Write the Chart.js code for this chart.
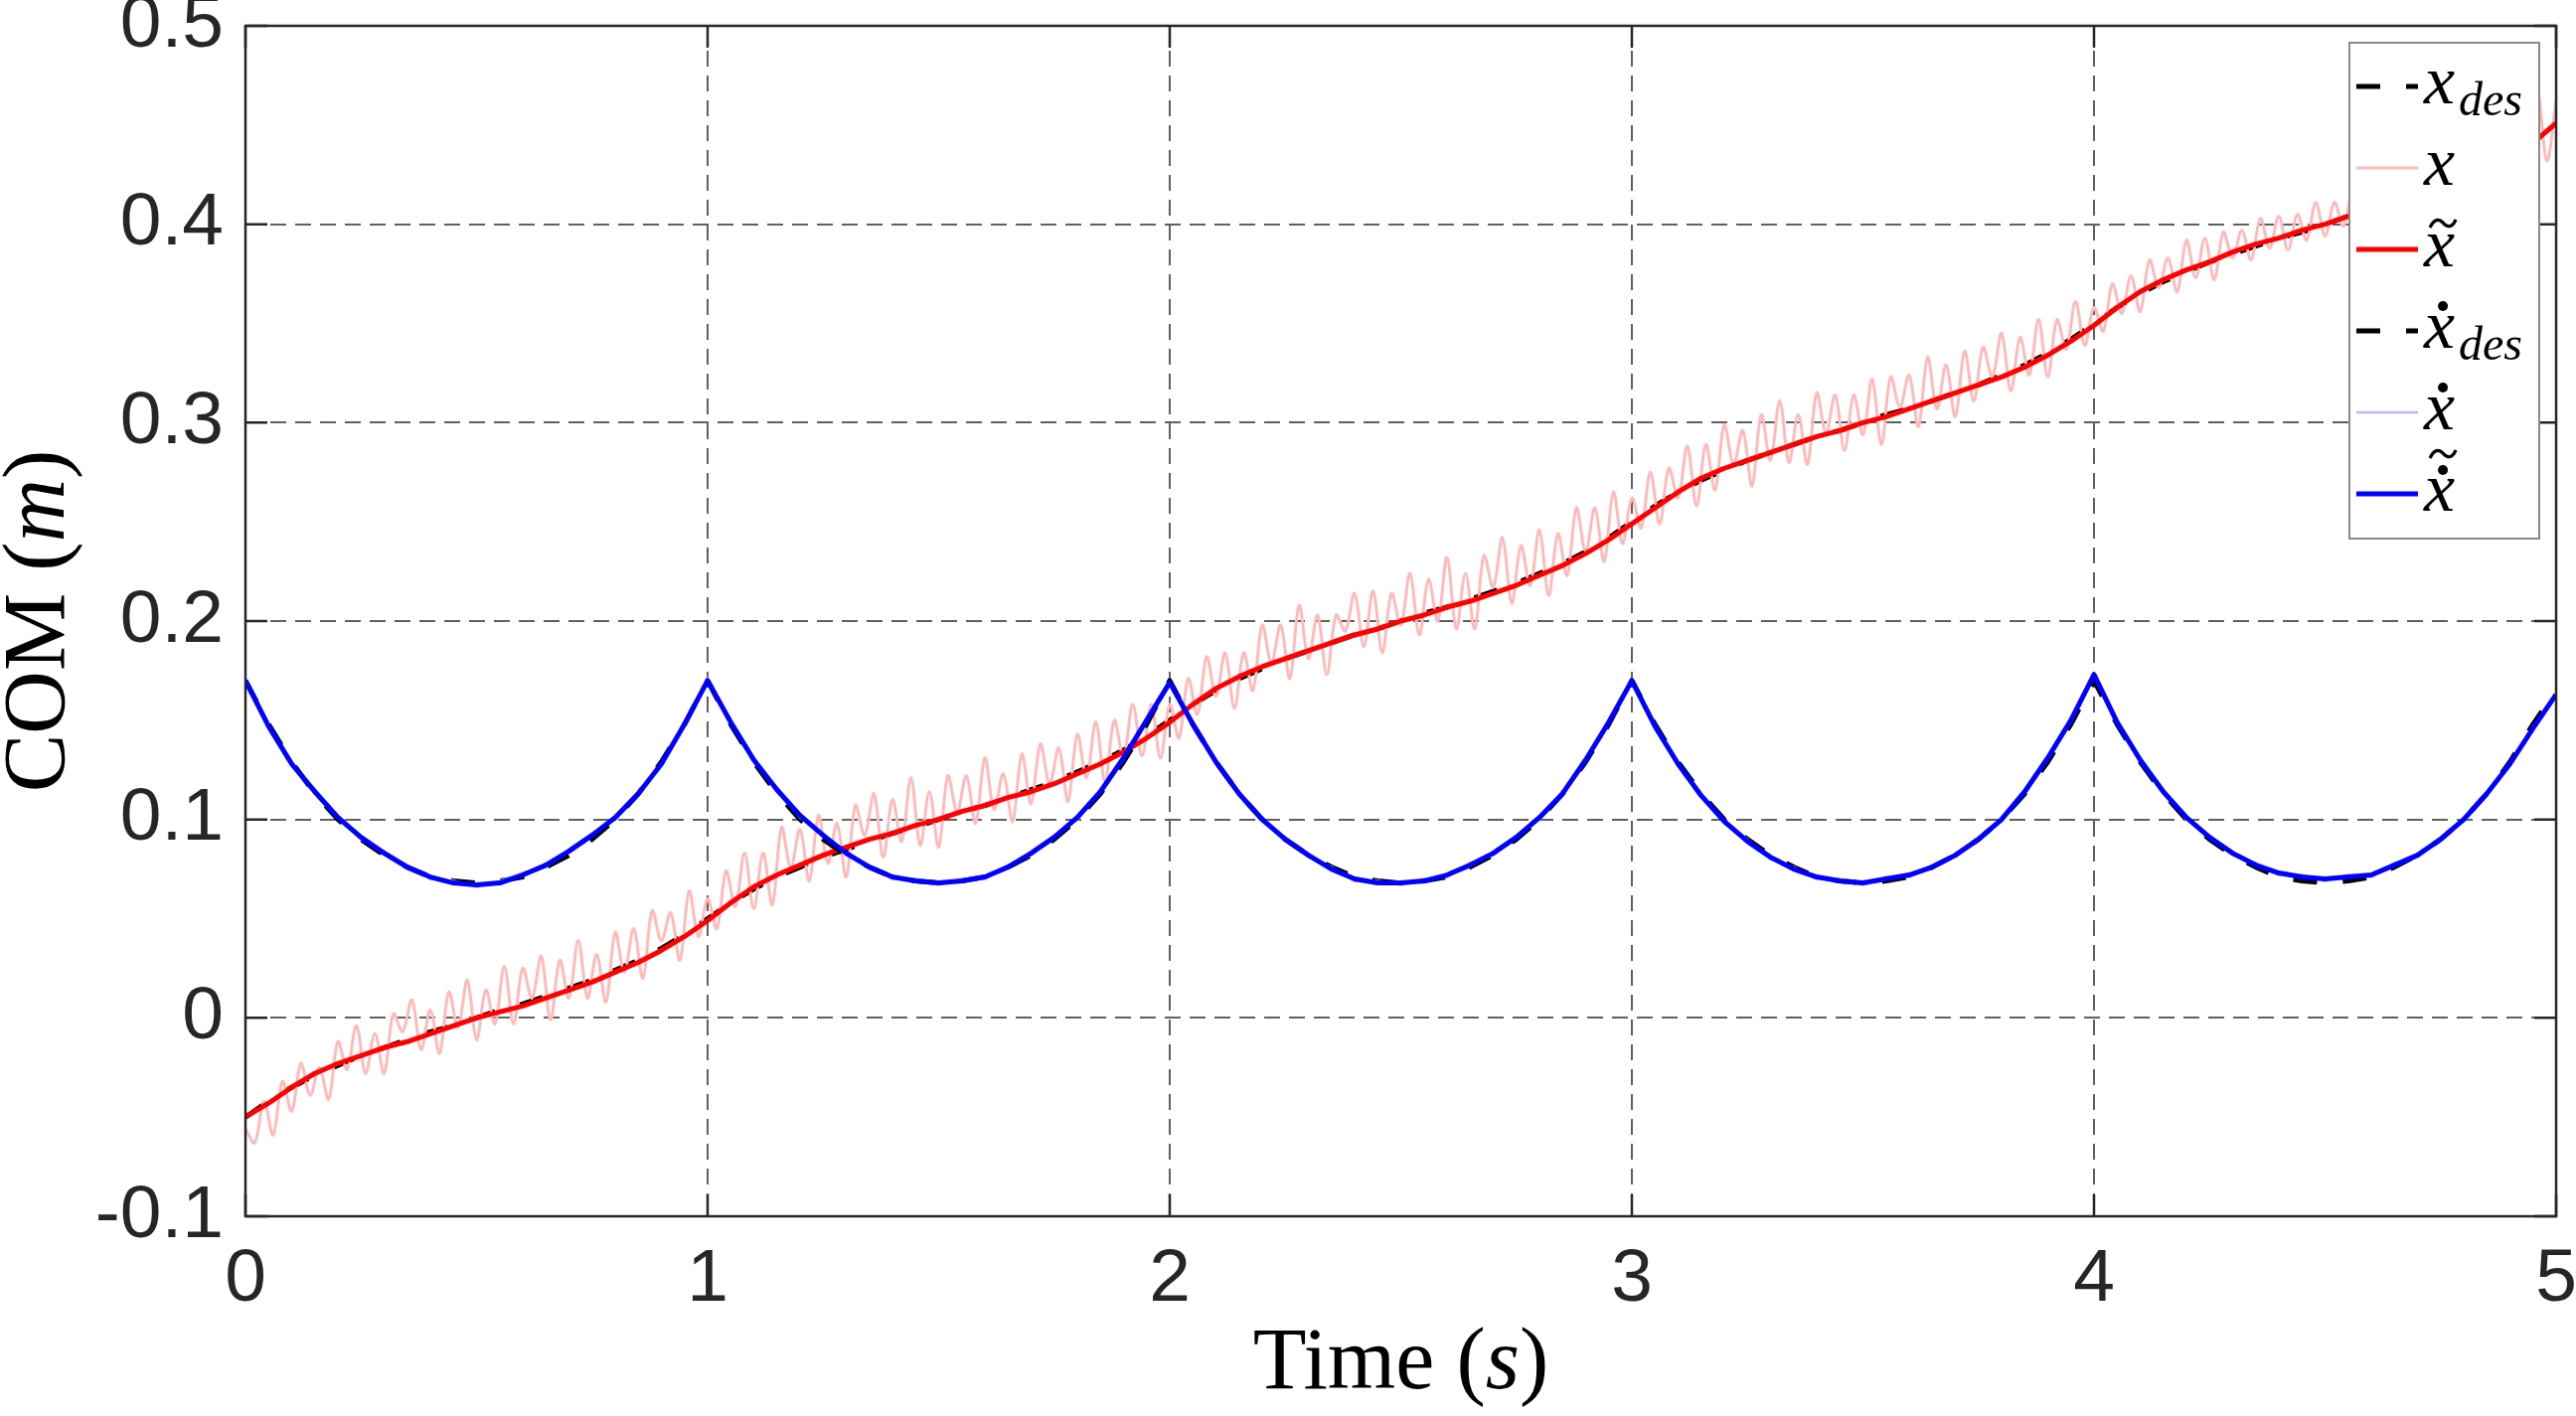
<!DOCTYPE html>
<html>
<head>
<meta charset="utf-8">
<title>COM tracking</title>
<script src="https://cdn.jsdelivr.net/npm/chart.js@4.4.0/dist/chart.umd.min.js"></script>
<style>
  html, body { margin: 0; padding: 0; background: #fff; }
  #plot { display: block; }
</style>
</head>
<body>
<canvas id="plot" width="2592" height="1425"></canvas>
<script>
// Sample grids (s): coarse 0.05 s for smooth traces, fine 0.02 s for the noisy position
const timeCoarse = Array.from({ length: 101 }, (_, i) => +(i * 0.05).toFixed(2));
const timeFine = Array.from({ length: 251 }, (_, i) => +(i * 0.02).toFixed(2));

// x_des, desired COM position (m)
const xDes = [
  -0.050, -0.042, -0.035, -0.029, -0.024, -0.019, -0.015, -0.011, -0.007, -0.004,
   0.000,  0.004,  0.007,  0.011,  0.015,  0.019,  0.024,  0.029,  0.035,  0.042,
   0.050,  0.058,  0.065,  0.071,  0.076,  0.081,  0.085,  0.089,  0.093,  0.096,
   0.100,  0.104,  0.107,  0.111,  0.115,  0.119,  0.124,  0.129,  0.135,  0.142,
   0.150,  0.158,  0.165,  0.171,  0.176,  0.181,  0.185,  0.189,  0.193,  0.196,
   0.200,  0.204,  0.207,  0.211,  0.215,  0.219,  0.224,  0.229,  0.235,  0.242,
   0.250,  0.258,  0.265,  0.271,  0.276,  0.281,  0.285,  0.289,  0.293,  0.296,
   0.300,  0.304,  0.307,  0.311,  0.315,  0.319,  0.324,  0.329,  0.335,  0.342,
   0.350,  0.358,  0.365,  0.371,  0.376,  0.381,  0.385,  0.389,  0.393,  0.396,
   0.400,  0.404,  0.407,  0.411,  0.415,  0.419,  0.424,  0.429,  0.435,  0.442,
   0.450
];

// x, measured COM position (m), noisy
const xMeas = [
  -0.056, -0.063, -0.042, -0.059, -0.032, -0.047, -0.023, -0.039, -0.025, -0.041,
  -0.012, -0.026, -0.004, -0.028, -0.008, -0.028,  0.002, -0.007,  0.009, -0.016,
   0.004, -0.018,  0.013, -0.005,  0.019, -0.011,  0.014, -0.003,  0.026, -0.003,
   0.025,  0.010,  0.031, -0.001,  0.029,  0.010,  0.039,  0.010,  0.032,  0.008,
   0.043,  0.023,  0.045,  0.020,  0.054,  0.039,  0.053,  0.029,  0.064,  0.041,
   0.060,  0.045,  0.074,  0.056,  0.083,  0.055,  0.083,  0.057,  0.096,  0.076,
   0.095,  0.069,  0.102,  0.078,  0.098,  0.071,  0.107,  0.092,  0.113,  0.081,
   0.110,  0.089,  0.121,  0.087,  0.114,  0.086,  0.122,  0.104,  0.122,  0.098,
   0.131,  0.105,  0.123,  0.099,  0.133,  0.108,  0.138,  0.118,  0.136,  0.109,
   0.143,  0.121,  0.149,  0.119,  0.150,  0.131,  0.158,  0.132,  0.158,  0.131,
   0.158,  0.141,  0.171,  0.153,  0.182,  0.162,  0.184,  0.156,  0.184,  0.165,
   0.198,  0.179,  0.198,  0.171,  0.208,  0.181,  0.203,  0.173,  0.203,  0.195,
   0.214,  0.187,  0.215,  0.184,  0.214,  0.198,  0.224,  0.193,  0.221,  0.200,
   0.232,  0.196,  0.224,  0.196,  0.233,  0.217,  0.242,  0.209,  0.238,  0.218,
   0.246,  0.213,  0.244,  0.223,  0.257,  0.235,  0.257,  0.230,  0.265,  0.239,
   0.262,  0.247,  0.275,  0.249,  0.277,  0.262,  0.288,  0.258,  0.289,  0.266,
   0.299,  0.279,  0.296,  0.268,  0.304,  0.281,  0.311,  0.280,  0.304,  0.279,
   0.315,  0.295,  0.314,  0.286,  0.314,  0.294,  0.322,  0.289,  0.323,  0.308,
   0.324,  0.298,  0.333,  0.307,  0.329,  0.303,  0.336,  0.311,  0.338,  0.323,
   0.345,  0.316,  0.343,  0.324,  0.352,  0.323,  0.352,  0.337,  0.361,  0.339,
   0.358,  0.346,  0.370,  0.355,  0.374,  0.356,  0.382,  0.368,  0.383,  0.366,
   0.392,  0.373,  0.393,  0.372,  0.396,  0.383,  0.397,  0.382,  0.403,  0.388,
   0.404,  0.387,  0.405,  0.392,  0.411,  0.394,  0.411,  0.399,  0.417,  0.399,
   0.418,  0.405,  0.422,  0.403,  0.423,  0.410,  0.430,  0.412,  0.431,  0.413,
   0.437,  0.422,  0.440,  0.423,  0.448,  0.430,  0.448,  0.429,  0.466,  0.432,
   0.462
];

// x~, filtered COM position (m)
const xFilt = [
  -0.050, -0.043, -0.035, -0.028, -0.023, -0.019, -0.015, -0.012, -0.008, -0.004,
   0.000,  0.003,  0.006,  0.010,  0.014,  0.018,  0.023,  0.028,  0.034,  0.041,
   0.049,  0.058,  0.066,  0.072,  0.077,  0.082,  0.086,  0.090,  0.093,  0.097,
   0.100,  0.104,  0.107,  0.111,  0.114,  0.118,  0.123,  0.128,  0.134,  0.141,
   0.149,  0.158,  0.166,  0.172,  0.177,  0.181,  0.185,  0.189,  0.193,  0.196,
   0.200,  0.203,  0.207,  0.210,  0.214,  0.218,  0.223,  0.228,  0.234,  0.241,
   0.249,  0.257,  0.265,  0.272,  0.277,  0.281,  0.285,  0.289,  0.293,  0.296,
   0.300,  0.303,  0.307,  0.311,  0.315,  0.319,  0.323,  0.328,  0.334,  0.341,
   0.349,  0.358,  0.366,  0.372,  0.377,  0.381,  0.386,  0.390,  0.393,  0.397,
   0.400,  0.404,  0.407,  0.411,  0.415,  0.419,  0.424,  0.429,  0.435,  0.441,
   0.451
];

// xdot_des, desired COM velocity (m/s)
const xdDes = [
  0.170, 0.148, 0.129, 0.113, 0.100, 0.090, 0.082, 0.076, 0.071, 0.069,
  0.068, 0.069, 0.071, 0.076, 0.082, 0.090, 0.100, 0.113, 0.129, 0.148,
  0.170, 0.148, 0.129, 0.113, 0.100, 0.090, 0.082, 0.076, 0.071, 0.069,
  0.068, 0.069, 0.071, 0.076, 0.082, 0.090, 0.100, 0.113, 0.129, 0.148,
  0.170, 0.148, 0.129, 0.113, 0.100, 0.090, 0.082, 0.076, 0.071, 0.069,
  0.068, 0.069, 0.071, 0.076, 0.082, 0.090, 0.100, 0.113, 0.129, 0.148,
  0.170, 0.148, 0.129, 0.113, 0.100, 0.090, 0.082, 0.076, 0.071, 0.069,
  0.068, 0.069, 0.071, 0.076, 0.082, 0.090, 0.100, 0.113, 0.129, 0.148,
  0.170, 0.148, 0.129, 0.113, 0.100, 0.090, 0.082, 0.076, 0.071, 0.069,
  0.068, 0.069, 0.071, 0.076, 0.082, 0.090, 0.100, 0.113, 0.129, 0.148,
  0.165
];

// xdot, measured COM velocity (m/s)
const xdMeas = [
  0.171, 0.148, 0.127, 0.115, 0.102, 0.090, 0.084, 0.077, 0.070, 0.069,
  0.066, 0.069, 0.073, 0.076, 0.085, 0.093, 0.100, 0.114, 0.127, 0.149,
  0.171, 0.150, 0.129, 0.116, 0.101, 0.093, 0.082, 0.077, 0.070, 0.070,
  0.067, 0.070, 0.070, 0.077, 0.082, 0.092, 0.100, 0.115, 0.130, 0.151,
  0.168, 0.149, 0.128, 0.114, 0.099, 0.091, 0.081, 0.076, 0.069, 0.069,
  0.067, 0.070, 0.071, 0.078, 0.082, 0.092, 0.100, 0.114, 0.129, 0.150,
  0.169, 0.148, 0.127, 0.113, 0.098, 0.090, 0.080, 0.076, 0.070, 0.070,
  0.067, 0.071, 0.071, 0.077, 0.081, 0.091, 0.099, 0.115, 0.130, 0.151,
  0.172, 0.150, 0.129, 0.115, 0.100, 0.092, 0.082, 0.078, 0.072, 0.072,
  0.069, 0.072, 0.071, 0.078, 0.081, 0.091, 0.099, 0.114, 0.127, 0.147,
  0.162
];

// xdot~, filtered COM velocity (m/s)
const xdFilt = [
  0.170, 0.147, 0.128, 0.114, 0.101, 0.091, 0.083, 0.076, 0.071, 0.068,
  0.067, 0.068, 0.072, 0.077, 0.084, 0.092, 0.101, 0.113, 0.128, 0.148,
  0.170, 0.149, 0.130, 0.115, 0.102, 0.092, 0.083, 0.076, 0.071, 0.069,
  0.068, 0.069, 0.071, 0.076, 0.083, 0.091, 0.101, 0.114, 0.131, 0.150,
  0.169, 0.148, 0.129, 0.113, 0.100, 0.090, 0.082, 0.075, 0.070, 0.068,
  0.068, 0.069, 0.072, 0.077, 0.083, 0.091, 0.101, 0.113, 0.130, 0.149,
  0.170, 0.147, 0.128, 0.112, 0.099, 0.089, 0.081, 0.075, 0.071, 0.069,
  0.068, 0.070, 0.072, 0.076, 0.082, 0.090, 0.100, 0.114, 0.131, 0.150,
  0.173, 0.149, 0.130, 0.114, 0.101, 0.091, 0.083, 0.077, 0.073, 0.071,
  0.070, 0.071, 0.072, 0.077, 0.082, 0.090, 0.100, 0.113, 0.128, 0.146,
  0.163
];

const xTickValues = [0, 1, 2, 3, 4, 5];
const yTickValues = [-0.1, 0, 0.1, 0.2, 0.3, 0.4, 0.5];

// legend entries: accent over x, subscript
const legendAccents = ['', '', 'tilde', 'dot', 'dot', 'dot+tilde'];
const legendSubs = ['des', '', '', 'des', '', ''];

const SANS = '"Liberation Sans", Arial, Helvetica, sans-serif';
const SERIF = '"Liberation Serif", "Times New Roman", serif';

function toPoints(ts, ys) {
  return ys.map((y, i) => ({ x: ts[i], y: y }));
}

// draws a run of text pieces centred on (x, y) at the baseline
function drawPieces(ctx, pieces, x, y) {
  let total = 0;
  pieces.forEach(p => { ctx.font = p.font; p.w = ctx.measureText(p.text).width; total += p.w; });
  let cx = x - total / 2;
  ctx.textAlign = 'left';
  ctx.textBaseline = 'alphabetic';
  pieces.forEach(p => { ctx.font = p.font; ctx.fillText(p.text, cx, y); cx += p.w; });
}

function drawTilde(ctx, cx, cy) {
  ctx.save();
  ctx.setLineDash([]);
  ctx.lineWidth = 3.2;
  ctx.strokeStyle = '#000';
  ctx.beginPath();
  ctx.moveTo(cx - 13, cy + 4);
  ctx.bezierCurveTo(cx - 9, cy - 5, cx - 4, cy - 5, cx, cy - 1);
  ctx.bezierCurveTo(cx + 4, cy + 4, cx + 9, cy + 5, cx + 13, cy - 4);
  ctx.stroke();
  ctx.restore();
}

function drawDot(ctx, cx, cy) {
  ctx.beginPath();
  ctx.arc(cx, cy, 5, 0, Math.PI * 2);
  ctx.fillStyle = '#000';
  ctx.fill();
}

const axesDecor = {
  id: 'axesDecor',
  afterDraw(chart) {
    const { ctx, chartArea: a, scales } = chart;
    ctx.save();

    // box + inward ticks
    ctx.setLineDash([]);
    ctx.strokeStyle = '#262626';
    ctx.lineWidth = 2.5;
    ctx.strokeRect(a.left, a.top, a.right - a.left, a.bottom - a.top);
    const tl = 22;
    ctx.beginPath();
    xTickValues.forEach(v => {
      const px = scales.x.getPixelForValue(v);
      ctx.moveTo(px, a.bottom); ctx.lineTo(px, a.bottom - tl);
      ctx.moveTo(px, a.top); ctx.lineTo(px, a.top + tl);
    });
    yTickValues.forEach(v => {
      const py = scales.y.getPixelForValue(v);
      ctx.moveTo(a.left, py); ctx.lineTo(a.left + tl, py);
      ctx.moveTo(a.right, py); ctx.lineTo(a.right - tl, py);
    });
    ctx.stroke();

    // axis titles
    ctx.fillStyle = '#000';
    const cxMid = (a.left + a.right) / 2;
    drawPieces(ctx, [
      { text: 'Time (', font: '88px ' + SERIF },
      { text: 's', font: 'italic 88px ' + SERIF },
      { text: ')', font: '88px ' + SERIF }
    ], cxMid, 1397);

    ctx.save();
    ctx.translate(64, (a.top + a.bottom) / 2);
    ctx.rotate(-Math.PI / 2);
    drawPieces(ctx, [
      { text: 'COM (', font: '88px ' + SERIF },
      { text: 'm', font: 'italic 88px ' + SERIF },
      { text: ')', font: '88px ' + SERIF }
    ], 0, 0);
    ctx.restore();

    // legend
    const box = { left: 2364, top: 43, right: 2555, bottom: 542 };
    ctx.fillStyle = '#fff';
    ctx.fillRect(box.left, box.top, box.right - box.left, box.bottom - box.top);
    ctx.strokeStyle = '#8a8a8a';
    ctx.lineWidth = 2;
    ctx.strokeRect(box.left, box.top, box.right - box.left, box.bottom - box.top);

    chart.data.datasets.forEach((ds, i) => {
      const rowY = 87 + i * 82;
      ctx.save();
      ctx.beginPath();
      ctx.setLineDash(ds.borderDash || []);
      ctx.strokeStyle = ds.borderColor;
      ctx.lineWidth = ds.borderWidth;
      ctx.moveTo(2371, rowY);
      ctx.lineTo(2433, rowY);
      ctx.stroke();
      ctx.restore();

      const x0 = 2439;
      ctx.fillStyle = '#000';
      ctx.textAlign = 'left';
      ctx.textBaseline = 'alphabetic';
      ctx.font = 'italic 70px ' + SERIF;
      ctx.fillText('x', x0, rowY + 17);
      const w = ctx.measureText('x').width;
      const ax = x0 + w * 0.55 + 2;
      const acc = legendAccents[i];
      if (acc === 'tilde') drawTilde(ctx, ax, rowY - 26);
      if (acc === 'dot') drawDot(ctx, ax, rowY - 25);
      if (acc === 'dot+tilde') { drawDot(ctx, ax, rowY - 24); drawTilde(ctx, ax, rowY - 40); }
      if (legendSubs[i]) {
        ctx.font = 'italic 48px ' + SERIF;
        ctx.fillText(legendSubs[i], x0 + w + 4, rowY + 29);
      }
    });

    ctx.restore();
  }
};

const gridStyle = { color: '#606060', lineWidth: 2, drawTicks: false };
const gridDash = { display: false, dash: [16, 9] };

new Chart(document.getElementById('plot'), {
  type: 'line',
  data: {
    datasets: [
      { label: 'x_des', data: toPoints(timeCoarse, xDes), borderColor: '#000000', borderWidth: 5, borderDash: [24, 26], order: 6 },
      { label: 'x', data: toPoints(timeFine, xMeas), borderColor: '#ffbaba', borderWidth: 3, tension: 0.35, order: 5 },
      { label: 'x~', data: toPoints(timeCoarse, xFilt), borderColor: '#ff0000', borderWidth: 5, order: 4 },
      { label: 'xdot_des', data: toPoints(timeCoarse, xdDes), borderColor: '#000000', borderWidth: 5, borderDash: [24, 26], order: 3 },
      { label: 'xdot', data: toPoints(timeCoarse, xdMeas), borderColor: '#b8b8ff', borderWidth: 2.5, order: 2 },
      { label: 'xdot~', data: toPoints(timeCoarse, xdFilt), borderColor: '#0000ff', borderWidth: 5, order: 1 }
    ]
  },
  options: {
    responsive: false,
    animation: false,
    events: [],
    layout: { padding: { top: 26, right: 20, left: 0, bottom: 0 } },
    elements: {
      point: { radius: 0 },
      line: { tension: 0, borderJoinStyle: 'round', fill: false }
    },
    plugins: { legend: { display: false }, tooltip: { enabled: false } },
    scales: {
      x: {
        type: 'linear', min: 0, max: 5,
        afterBuildTicks: s => { s.ticks = xTickValues.map(v => ({ value: v })); },
        afterFit: s => { s.height = 201; s.paddingLeft = 0; s.paddingRight = 0; },
        ticks: { color: '#262626', font: { family: SANS, size: 75 }, padding: 19, maxRotation: 0, autoSkip: false },
        grid: gridStyle,
        border: gridDash
      },
      y: {
        type: 'linear', min: -0.1, max: 0.5,
        afterBuildTicks: s => { s.ticks = yTickValues.map(v => ({ value: v })); },
        afterFit: s => { s.width = 247; s.paddingTop = 0; s.paddingBottom = 0; },
        ticks: { color: '#262626', font: { family: SANS, size: 75 }, padding: 22, callback: v => String(Math.round(v * 10) / 10) },
        grid: gridStyle,
        border: gridDash
      }
    }
  },
  plugins: [axesDecor]
});
</script>
</body>
</html>
